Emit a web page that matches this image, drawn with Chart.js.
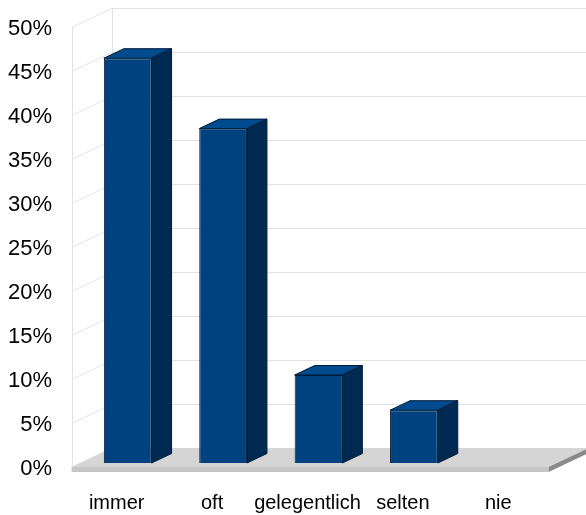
<!DOCTYPE html>
<html>
<head>
<meta charset="utf-8">
<script src="https://cdn.jsdelivr.net/npm/chart.js@4"></script>
<style>
  body { margin: 0; background: #fff; }
  #wrap { width: 586px; height: 515px; position: relative; }
</style>
</head>
<body>
<div id="wrap"><canvas id="myChart"></canvas></div>
<script>
const categories = ['immer', 'oft', 'gelegentlich', 'selten', 'nie']
const values = [46, 38, 10, 6, 0]
const tickValues = [0, 5, 10, 15, 20, 25, 30, 35, 40, 45, 50]

// depth of the whole box, and how far the bars sit behind the front edge
const depth = { x: 40, y: -19 }
const barFront = 0.21
const barDepth = 0.5

const fake3d = {
  id: 'fake3d',
  beforeDatasetsDraw(chart) {
    const ctx = chart.ctx
    const area = chart.chartArea
    const yScale = chart.scales.y
    const fx = -depth.x * barFront, fy = -depth.y * barFront
    const left = area.left + fx
    const right = area.right + fx
    const bx = left + depth.x, by = depth.y
    ctx.save()
    ctx.strokeStyle = '#e2e2e2'
    ctx.lineWidth = 1
    tickValues.forEach(v => {
      const y = Math.round(yScale.getPixelForValue(v) + fy) + 0.5
      ctx.beginPath()
      ctx.moveTo(left, y)
      ctx.lineTo(bx, y + by)
      ctx.lineTo(chart.width, y + by)
      ctx.stroke()
    })
    const yTop = yScale.getPixelForValue(50) + fy
    const yBot = yScale.getPixelForValue(0) + fy
    ctx.beginPath()
    ctx.moveTo(Math.round(left) + 0.5, yTop)
    ctx.lineTo(Math.round(left) + 0.5, yBot)
    ctx.moveTo(Math.round(bx) + 0.5, yTop + by)
    ctx.lineTo(Math.round(bx) + 0.5, yBot + by)
    ctx.stroke()

    // floor slab
    const t = 5
    ctx.fillStyle = '#d5d5d5'
    ctx.beginPath()
    ctx.moveTo(left, yBot)
    ctx.lineTo(right, yBot)
    ctx.lineTo(right + depth.x, yBot + by)
    ctx.lineTo(bx, yBot + by)
    ctx.closePath()
    ctx.fill()
    ctx.fillStyle = '#c6c6c6'
    ctx.fillRect(left, yBot, right - left, t)
    ctx.fillStyle = '#8a8a8a'
    ctx.beginPath()
    ctx.moveTo(right, yBot)
    ctx.lineTo(right + depth.x, yBot + by)
    ctx.lineTo(right + depth.x, yBot + by + t)
    ctx.lineTo(right, yBot + t)
    ctx.closePath()
    ctx.fill()
    ctx.restore()
  },
  afterDatasetsDraw(chart) {
    const ctx = chart.ctx
    const dx = depth.x * barDepth, dy = depth.y * barDepth
    ctx.save()
    ctx.strokeStyle = '#001b38'
    ctx.lineWidth = 1
    chart.getDatasetMeta(0).data.forEach((bar, i) => {
      if (!values[i]) return
      const L = bar.x - bar.width / 2, R = bar.x + bar.width / 2
      const T = bar.y, B = bar.base
      ctx.fillStyle = '#004b8e'
      ctx.beginPath()
      ctx.moveTo(L, T); ctx.lineTo(R, T); ctx.lineTo(R + dx, T + dy); ctx.lineTo(L + dx, T + dy)
      ctx.closePath(); ctx.fill(); ctx.stroke()
      ctx.fillStyle = '#002a52'
      ctx.beginPath()
      ctx.moveTo(R, T); ctx.lineTo(R + dx, T + dy); ctx.lineTo(R + dx, B + dy); ctx.lineTo(R, B)
      ctx.closePath(); ctx.fill(); ctx.stroke()
    })
    ctx.restore()
  }
}

Chart.defaults.color = '#000'
Chart.defaults.font.family = '"Liberation Sans", Arial, sans-serif'

new Chart(document.getElementById('myChart'), {
  type: 'bar',
  data: {
    labels: categories,
    datasets: [{
      data: values,
      backgroundColor: '#00427f',
      borderColor: '#001b38',
      borderWidth: ctx => values[ctx.dataIndex] ? 1 : 0,
      categoryPercentage: 1,
      barPercentage: 0.5
    }]
  },
  options: {
    responsive: true,
    maintainAspectRatio: false,
    animation: false,
    layout: { padding: { top: 23, right: 29, left: 0, bottom: 0 } },
    plugins: { legend: { display: false }, tooltip: { enabled: false } },
    scales: {
      x: {
        grid: { display: false, drawTicks: false },
        border: { display: false },
        ticks: { font: { size: 20 }, padding: 28, labelOffset: -11, maxRotation: 0, autoSkip: false },
        afterFit: s => { s.height = 52; s.paddingTop = 0; s.paddingBottom = 0 }
      },
      y: {
        min: 0,
        max: 50,
        grid: { display: false, drawTicks: false },
        border: { display: false },
        ticks: {
          stepSize: 5,
          font: { size: 22 },
          padding: 28,
          labelOffset: 6,
          callback: v => v + '%'
        },
        afterFit: s => { s.width = 80; s.paddingTop = 0; s.paddingBottom = 0 }
      }
    }
  },
  plugins: [fake3d]
})
</script>
</body>
</html>
